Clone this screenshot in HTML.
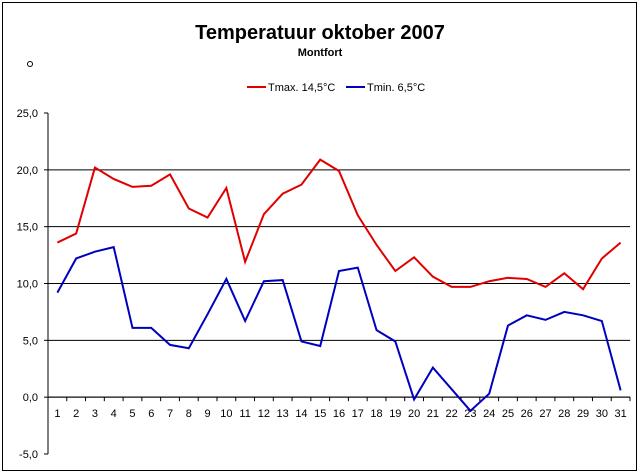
<!DOCTYPE html>
<html><head><meta charset="utf-8"><style>
body{margin:0;background:#fff;font-family:"Liberation Sans",Arial,sans-serif}
svg{display:block}
</style></head><body>
<svg width="640" height="474" id="c">
<rect x="2.5" y="2.5" width="634" height="468" fill="#fff" stroke="#000"/>
<text x="320" y="39" text-anchor="middle" font-size="20" font-weight="bold">Temperatuur oktober 2007</text>
<text x="320" y="56" text-anchor="middle" font-size="11" font-weight="bold">Montfort</text>
<circle cx="30" cy="64" r="2.5" fill="none" stroke="#000"/>
<g>
<line x1="247" y1="87" x2="266" y2="87" stroke="#e00000" stroke-width="2"/>
<text x="268" y="91" font-size="11">Tmax. 14,5°C</text>
<line x1="346" y1="87" x2="365" y2="87" stroke="#0000c0" stroke-width="2"/>
<text x="367" y="91" font-size="11">Tmin. 6,5°C</text>
</g>
</svg>
<script>
const days=[1,2,3,4,5,6,7,8,9,10,11,12,13,14,15,16,17,18,19,20,21,22,23,24,25,26,27,28,29,30,31];
const tmax=[13.6,14.4,20.2,19.2,18.5,18.6,19.6,16.6,15.8,18.4,11.9,16.1,17.9,18.7,20.9,19.9,16.0,13.4,11.1,12.3,10.6,9.7,9.7,10.2,10.5,10.4,9.7,10.9,9.5,12.2,13.6];
const tmin=[9.2,12.2,12.8,13.2,6.1,6.1,4.6,4.3,7.3,10.4,6.7,10.2,10.3,4.9,4.5,11.1,11.4,5.9,4.9,-0.2,2.6,0.7,-1.2,0.3,6.3,7.2,6.8,7.5,7.2,6.7,0.6];
const yTicks=[25,20,15,10,5,0,-5];
const NS="http://www.w3.org/2000/svg";
const svg=document.getElementById('c');
const L=48,R=630,T=113,B=454;
const yMin=-5,yMax=25;
function y(v){return B-(v-yMin)/(yMax-yMin)*(B-T);}
const step=(R-L)/days.length;
function x(i){return L+step*(i+0.5);}
function mk(tag,attrs){const e=document.createElementNS(NS,tag);for(const k in attrs)e.setAttribute(k,attrs[k]);svg.appendChild(e);return e;}
yTicks.forEach(t=>{
  if(t>yMin && t<yMax){const g=mk('line',{x1:L,x2:R,y1:y(t),y2:y(t),stroke:'#000','stroke-width':1});
  
  }
  const tk=mk('line',{x1:L-4,x2:L,y1:y(t),y2:y(t),stroke:'#000'});
  
  
  const lb=mk('text',{x:L-10,y:y(t)+4,'text-anchor':'end','font-size':11});
  lb.textContent=t.toFixed(1).replace('.',',');
  
  
});
const ya=mk('line',{x1:L,x2:L,y1:T,y2:B,stroke:'#000'});


const xa=mk('line',{x1:L,x2:R,y1:y(0),y2:y(0),stroke:'#000'});


days.forEach((d,i)=>{
  const tx=L+step*(i+1);
  const tk=mk('line',{x1:tx,x2:tx,y1:y(0),y2:y(0)+4,stroke:'#000'});
  
  
  const lb=mk('text',{x:x(i),y:y(0)+20,'text-anchor':'middle','font-size':11});
  lb.textContent=d;
  
  
});
function line(arr,col,name){
  const p=mk('polyline',{points:arr.map((v,i)=>x(i)+','+y(v)).join(' '),fill:'none',stroke:col,'stroke-width':2});
  
  
}
line(tmax,'#e00000','series-tmax');
line(tmin,'#0000c0','series-tmin');
</script>
</body></html>
